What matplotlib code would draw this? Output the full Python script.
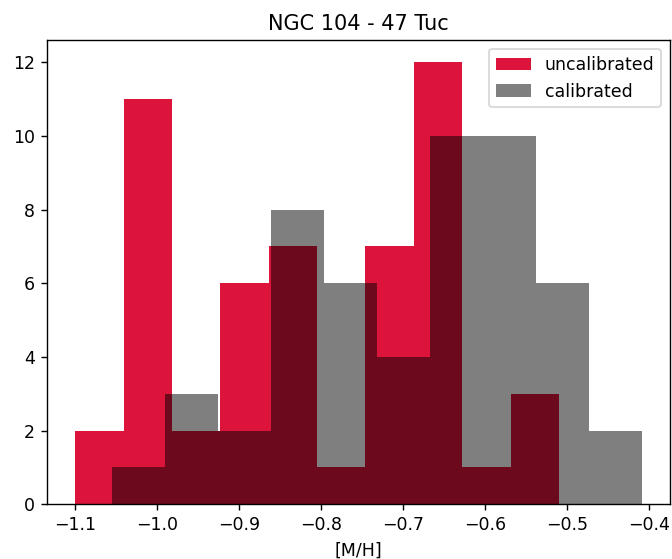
import numpy as np
import matplotlib
matplotlib.use("Agg")
import matplotlib.pyplot as plt

# bin counts (10 bins each)
uncal_counts = [2, 11, 2, 6, 7, 1, 7, 12, 1, 3]
uncal_range = (-1.1, -0.510)
cal_counts = [1, 3, 2, 8, 6, 4, 10, 10, 6, 2]
cal_range = (-1.055, -0.409)

uncal_edges = np.linspace(uncal_range[0], uncal_range[1], len(uncal_counts) + 1)
cal_edges = np.linspace(cal_range[0], cal_range[1], len(cal_counts) + 1)

fig, ax = plt.subplots(figsize=(5.376, 4.472), dpi=125)
fig.subplots_adjust(left=0.07, right=0.997, top=0.928, bottom=0.098)

ax.hist(uncal_edges[:-1], bins=uncal_edges, weights=uncal_counts,
        color='crimson', label='uncalibrated')
ax.hist(cal_edges[:-1], bins=cal_edges, weights=cal_counts,
        color='k', alpha=0.5, label='calibrated')

ax.set_title('NGC 104 - 47 Tuc')
ax.set_xlabel('[M/H]')
ax.legend(loc='upper right')

fig.savefig('out.png', dpi=125)
